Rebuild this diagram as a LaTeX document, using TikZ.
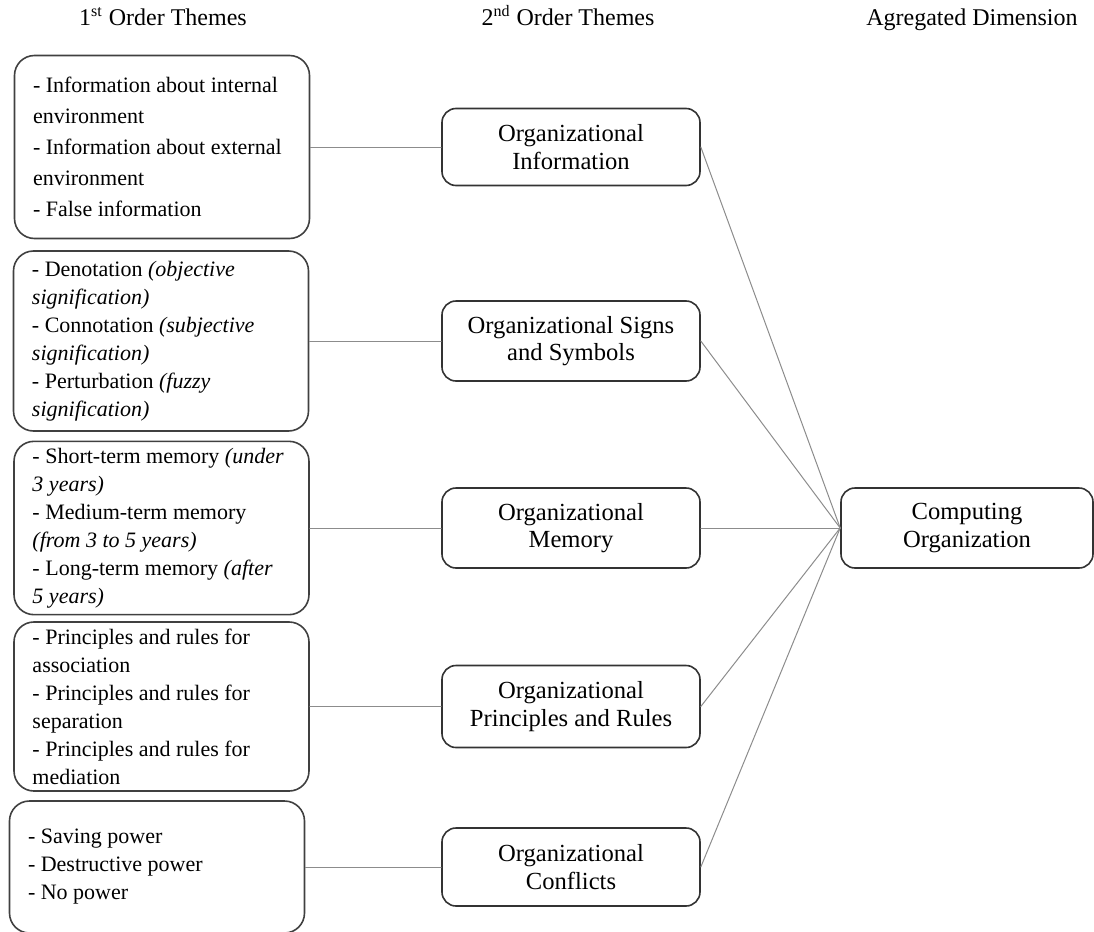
\documentclass[tikz,border=0pt]{standalone}
\usepackage{fontspec}
\setmainfont{Liberation Serif}
\hyphenpenalty=10000
\begin{document}
\begin{tikzpicture}[x=0.5pt,y=-0.5pt, line join=round, line cap=round,
    theme/.style={draw=black!75,line width=0.8pt,rounded corners=10pt,
        minimum width=147.5pt,text width=129pt,inner xsep=9.25pt,align=flush left,
        font=\fontsize{11}{14}\selectfont},
    second/.style={draw=black!80,line width=0.8pt,rounded corners=7pt,
        minimum width=129pt,minimum height=40pt,align=flush center,
        font=\fontsize{12.3}{13.8}\selectfont},
    head/.style={anchor=base,font=\fontsize{12}{14}\selectfont},
    link/.style={draw=black!45,line width=0.5pt}]
        \useasboundingbox (0,0) rectangle (1094,932);
        \node[head] (h1) at (163,25) {1\textsuperscript{st} Order Themes};
        \node[head] (h2) at (568,25) {2\textsuperscript{nd} Order Themes};
        \node[head] (h3) at (972,25) {Agregated Dimension};

        \node[theme,minimum height=91.5pt,font=\fontsize{11}{15.5}\selectfont] (info) at (162,147)
            {- Information about internal\\environment\\- Information about external\\environment\\- False information};
        \node[theme,minimum height=90pt] (signs) at (161,341)
            {- Denotation \textit{(objective}\\\textit{signification)}\\- Connotation \textit{(subjective}\\\textit{signification)}\\- Perturbation \textit{(fuzzy}\\\textit{signification)}};
        \node[theme,minimum height=85pt] (mem) at (161.5,528)
            {- Short-term memory \textit{(under}\\\textit{3 years)}\\- Medium-term memory\\\textit{(from 3 to 5 years)}\\- Long-term memory \textit{(after}\\\textit{5 years)}};
        \node[theme,minimum height=81.5pt] (rules) at (161.5,706.5)
            {- Principles and rules for\\association\\- Principles and rules for\\separation\\- Principles and rules for\\mediation};
        \node[theme,minimum height=66pt] (conf) at (157,867)
            {- Saving power\\- Destructive power\\- No power};

        \node[second,minimum height=38.5pt] (oinfo) at (571,147) {Organizational\\Information};
        \node[second] (osigns) at (571,341) {Organizational Signs\\and Symbols};
        \node[second] (omem) at (571,528) {Organizational\\Memory};
        \node[second,minimum height=41pt] (orules) at (571,706.5) {Organizational\\Principles and Rules};
        \node[second,minimum height=39pt] (oconf) at (571,867) {Organizational\\Conflicts};

        \node[second,minimum width=126pt] (comp) at (967,528) {Computing\\Organization};

        \foreach \a/\b in {info/oinfo,signs/osigns,mem/omem,rules/orules,conf/oconf}
            \draw[link] (\a.east) -- (\b.west);
        \foreach \b in {oinfo,osigns,omem,orules,oconf}
            \draw[link] (\b.east) -- (comp.west);
    \end{tikzpicture}
\end{document}
